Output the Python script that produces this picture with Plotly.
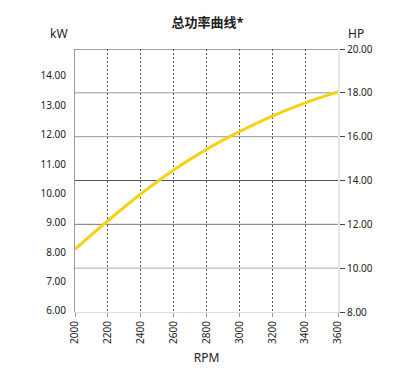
import plotly.graph_objects as go

rpm = [2000, 2200, 2400, 2600, 2800, 3000, 3200, 3400, 3600]
kw = [8.10, 9.07, 9.98, 10.80, 11.50, 12.10, 12.63, 13.08, 13.45]
kw_ticks = [6, 7, 8, 9, 10, 11, 12, 13, 14]
hp_ticks = [8, 10, 12, 14, 16, 18, 20]
hp_grid = [10, 12, 14, 16, 18, 20]
hp_grid_colors = ["#aaaaaa", "#777777", "#555555", "#999999", "#999999", "#444444"]
HP_PER_KW = 1 / 0.7457

font = "Noto Sans, Noto Sans CJK SC, sans-serif"

fig = go.Figure()
fig.add_trace(go.Scatter(x=rpm, y=kw, mode="lines", line=dict(color="#F7D117", width=3, shape="spline"),
                         showlegend=False, hoverinfo="skip"))
# invisible trace on HP axis
fig.add_trace(go.Scatter(x=[rpm[0]], y=[kw[0] * HP_PER_KW], yaxis="y2", mode="markers",
                         marker=dict(opacity=0), showlegend=False, hoverinfo="skip"))

for v, c in zip(hp_grid, hp_grid_colors):
    fig.add_shape(type="line", xref="paper", x0=0, x1=1, yref="y2", y0=v, y1=v,
                  line=dict(color=c, width=1), layer="below")

fig.update_layout(
    width=415, height=374,
    margin=dict(l=75, r=77, t=49, b=60),
    paper_bgcolor="white", plot_bgcolor="white",
    font=dict(family=font, size=10, color="#222"),
    title=dict(text="<b>总功率曲线*</b>", x=0.5, xanchor="center", y=0.94, yanchor="middle",
               font=dict(size=13, color="#222")),
    xaxis=dict(range=[2000, 3600], tickvals=rpm, ticktext=[str(r) for r in rpm], tickangle=-90,
               showgrid=True, gridcolor="#555", griddash="2px,2px", gridwidth=1,
               ticks="outside", ticklen=4, tickcolor="#999",
               showline=True, linecolor="#ddd", linewidth=1, zeroline=False,
               title=dict(text="RPM", font=dict(size=12), standoff=10)),
    yaxis=dict(range=[8 / HP_PER_KW, 20 / HP_PER_KW], tickvals=kw_ticks,
               ticktext=[f"{v:.2f}" for v in kw_ticks], showgrid=False, zeroline=False,
               showline=True, linecolor="#999", linewidth=1, ticks="", ticklabelstandoff=6),
    yaxis2=dict(range=[8, 20], overlaying="y", side="right", tickvals=hp_ticks,
                ticktext=[f"{v:.2f}" for v in hp_ticks], showgrid=False, zeroline=False,
                showline=True, linecolor="#e6e6e6", linewidth=2,
                ticks="outside", ticklen=5, tickcolor="#444"),
    annotations=[
        dict(text="kW", xref="paper", yref="paper", x=-0.06, y=1.0, yshift=16, showarrow=False,
             font=dict(size=12), xanchor="center", yanchor="middle"),
        dict(text="HP", xref="paper", yref="paper", x=1.07, y=1.0, yshift=16, showarrow=False,
             font=dict(size=12), xanchor="center", yanchor="middle"),
    ],
)

fig.write_html("out.html")
